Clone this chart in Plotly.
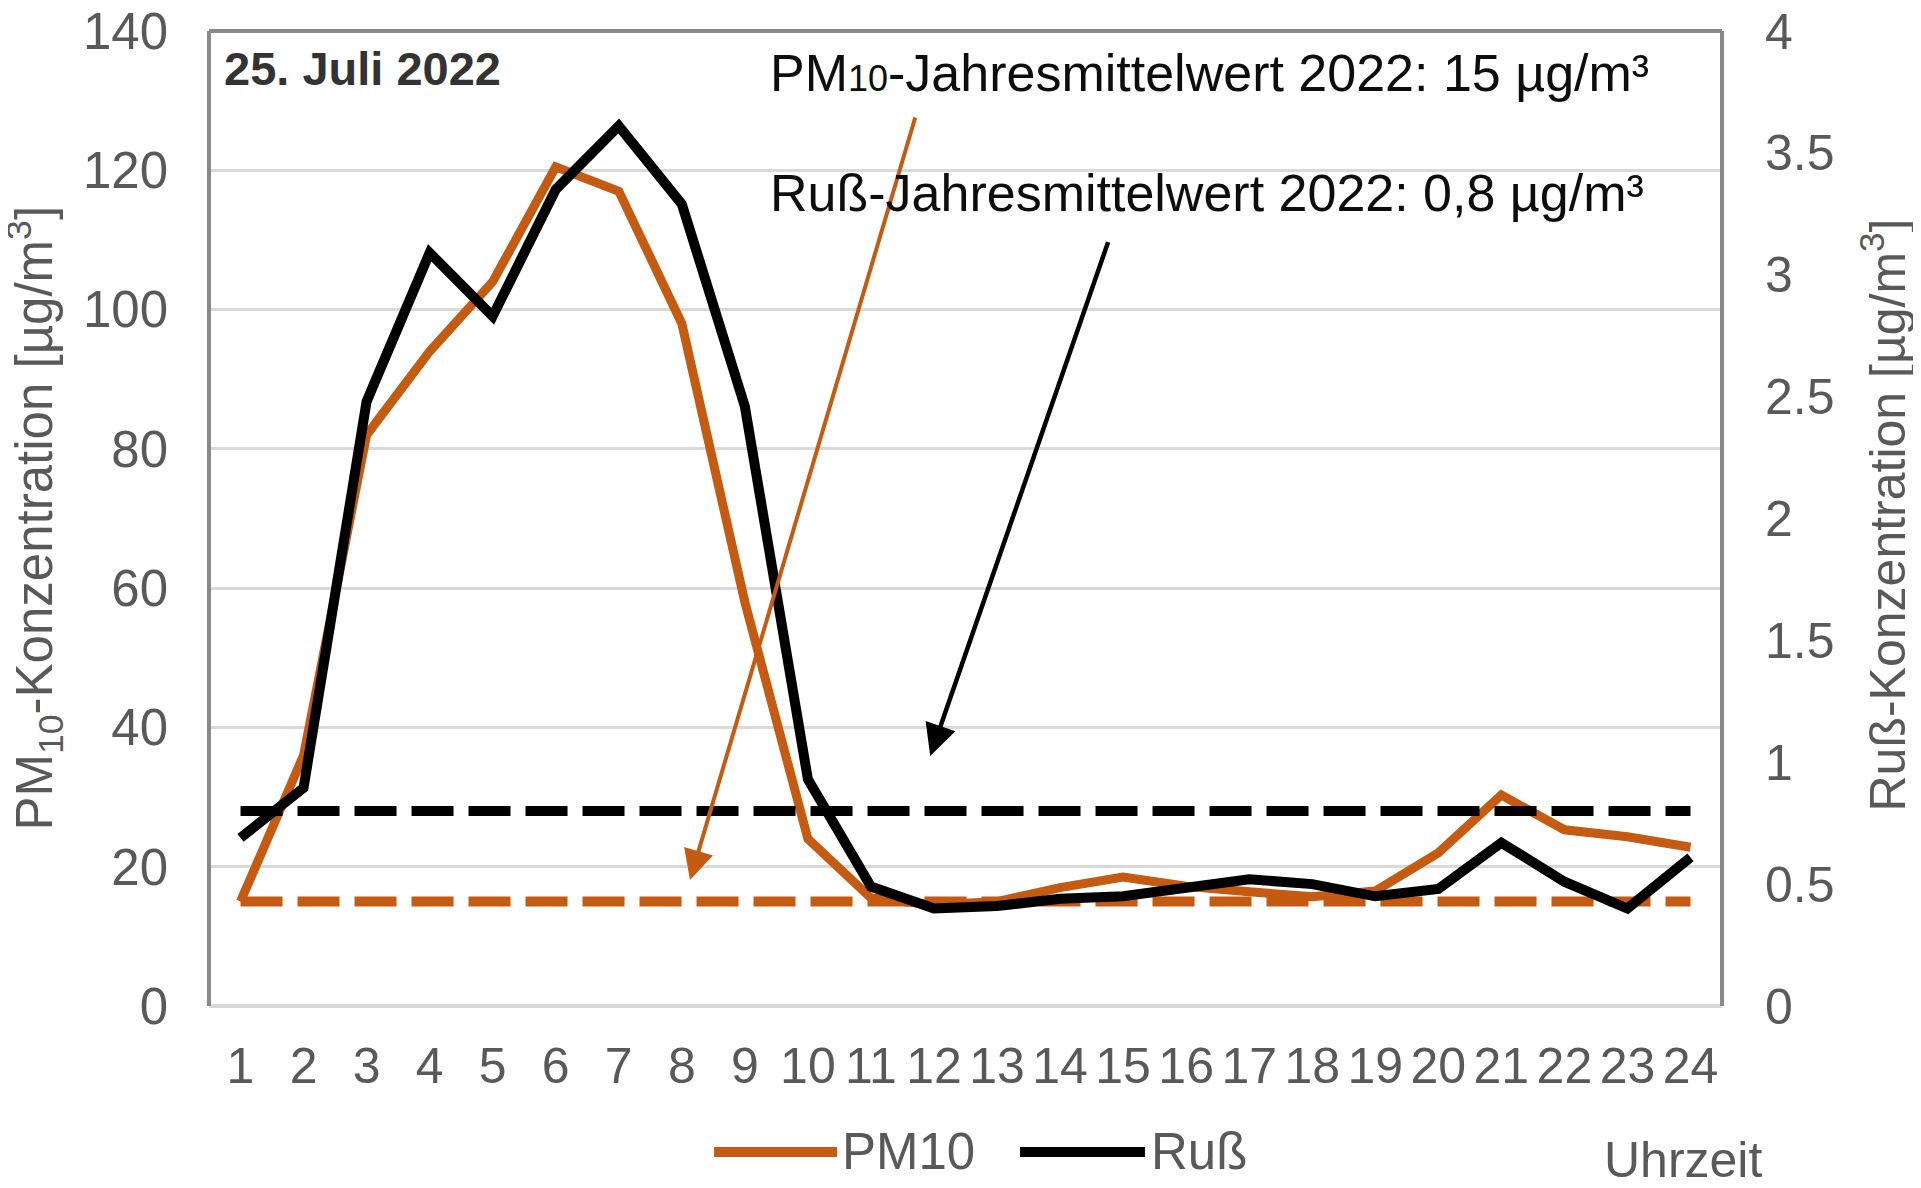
import plotly.graph_objects as go

# ---------------- data ----------------
hours = list(range(1, 25))
hour_labels = [str(h) for h in hours]

pm10 = [15, 36, 82, 94, 104, 120.5, 117, 98, 58, 24, 15.5, 14.5,
        15, 17, 18.5, 17.2, 16.4, 15.7, 16.5, 22, 30.3, 25.3, 24.3, 22.8]
russ = [0.69, 0.895, 2.48, 3.09, 2.83, 3.35, 3.61, 3.29, 2.46, 0.93, 0.49, 0.40,
        0.41, 0.44, 0.45, 0.48, 0.52, 0.50, 0.45, 0.48, 0.67, 0.51, 0.40, 0.61]

PM10_MEAN = 15      # µg/m³, Jahresmittelwert 2022
RUSS_MEAN = 0.8     # µg/m³, Jahresmittelwert 2022

left_ticks = [0, 20, 40, 60, 80, 100, 120, 140]
right_ticks = [0, 0.5, 1, 1.5, 2, 2.5, 3, 3.5, 4]

# arrows (tip, tail) in data coordinates of x / left axis
pm10_arrow = dict(x=8.13, y=18.1, ax=11.71, ay=127.8)
russ_arrow = dict(x=11.94, y=35.9, ax=14.77, ay=109.9)

# ---------------- style ----------------
ORANGE = "#C55A11"
BLACK = "#000000"
GRAY = "#595959"
GRID = "#D9D9D9"
FRAME = "#898989"
FONT = "Liberation Sans, Arial, sans-serif"

fig = go.Figure()
fig.add_trace(go.Scatter(x=hours, y=pm10, mode="lines", name="PM10",
                         line=dict(color=ORANGE, width=9)))
fig.add_trace(go.Scatter(x=hours, y=[PM10_MEAN] * len(hours), mode="lines",
                         line=dict(color=ORANGE, width=10, dash="42px,15px"),
                         showlegend=False))
fig.add_trace(go.Scatter(x=hours, y=russ, mode="lines", name="Ruß", yaxis="y2",
                         line=dict(color=BLACK, width=10)))
fig.add_trace(go.Scatter(x=hours, y=[RUSS_MEAN] * len(hours), mode="lines", yaxis="y2",
                         line=dict(color=BLACK, width=10, dash="42px,15px"),
                         showlegend=False))

# page body adds an 8px margin, so the figure is 16px smaller than the window
fig.update_layout(
    width=1905, height=1172,
    margin=dict(l=201, r=191, t=23, b=174, autoexpand=False),
    paper_bgcolor="white", plot_bgcolor="white",
    showlegend=False,
    font=dict(family=FONT, color=GRAY, size=50),
    xaxis=dict(range=[0.5, 24.5], tickvals=hours, ticktext=hour_labels,
               showgrid=False, zeroline=False, showline=False, ticks="",
               tickfont=dict(size=50, color=GRAY), ticklabelstandoff=26,
               ticklabeloverflow="allow", automargin=False),
    yaxis=dict(range=[0, 140], tickvals=left_ticks,
               showgrid=True, gridcolor=GRID, gridwidth=3,
               zeroline=True, zerolinecolor=GRID, zerolinewidth=4,
               showline=False, ticks="",
               tickfont=dict(size=51, color=GRAY), ticklabelstandoff=40,
               ticklabeloverflow="allow", automargin=False),
    yaxis2=dict(range=[0, 4], tickvals=right_ticks, overlaying="y", side="right",
                showgrid=False, zeroline=False, showline=False, ticks="",
                tickfont=dict(size=50, color=GRAY), ticklabelstandoff=42,
                ticklabeloverflow="allow", automargin=False),
)

# frame (left, top, right)
for x0, y0, x1, y1 in [(0, 0, 0, 1), (0, 1, 1, 1), (1, 0, 1, 1)]:
    fig.add_shape(type="line", xref="paper", yref="paper", x0=x0, y0=y0, x1=x1, y1=y1,
                  line=dict(color=FRAME, width=4), layer="above")

# arrows
fig.add_annotation(text="", showarrow=True, xref="x", yref="y", axref="x", ayref="y",
                   arrowcolor=ORANGE, arrowwidth=4, arrowhead=2, arrowsize=1.5,
                   **pm10_arrow)
fig.add_annotation(text="", showarrow=True, xref="x", yref="y", axref="x", ayref="y",
                   arrowcolor=BLACK, arrowwidth=4.5, arrowhead=2, arrowsize=1.4,
                   **russ_arrow)

# texts
fig.add_annotation(text="<b>25. Juli 2022</b>", xref="paper", yref="paper",
                   x=0.0085, y=0.962, xanchor="left", yanchor="middle", showarrow=False,
                   font=dict(family=FONT, size=47, color="#333333"))
fig.add_annotation(text="PM<span style='font-size:36px'>10</span>-Jahresmittelwert 2022: 15 µg/m³",
                   xref="paper", yref="paper", x=0.3695, y=0.957,
                   xanchor="left", yanchor="middle", showarrow=False,
                   font=dict(family=FONT, size=52, color="#0D0D0D"))
fig.add_annotation(text="Ruß-Jahresmittelwert 2022: 0,8 µg/m³",
                   xref="paper", yref="paper", x=0.3695, y=0.834,
                   xanchor="left", yanchor="middle", showarrow=False,
                   font=dict(family=FONT, size=52, color="#0D0D0D"))

# axis titles
fig.add_annotation(text="PM<sub>10</sub>-Konzentration [µg/m<sup>3</sup>]",
                   xref="paper", yref="paper", x=-0.1156, y=0.5, textangle=-90,
                   xanchor="center", yanchor="middle", showarrow=False,
                   font=dict(family=FONT, size=51, color=GRAY))
fig.add_annotation(text="Ruß-Konzentration [µg/m<sup>3</sup>]",
                   xref="paper", yref="paper", x=1.107, y=0.504, textangle=-90,
                   xanchor="center", yanchor="middle", showarrow=False,
                   font=dict(family=FONT, size=50, color=GRAY))
fig.add_annotation(text="Uhrzeit", xref="paper", yref="paper", x=0.9207, y=-0.158,
                   xanchor="left", yanchor="middle", showarrow=False,
                   font=dict(family=FONT, size=50, color=GRAY))

# legend
legend_items = [("PM10", ORANGE, 0.3338, 0.4151, 0.417),
                ("Ruß", BLACK, 0.536, 0.6186, 0.6213)]
for name, color, lx0, lx1, tx in legend_items:
    fig.add_shape(type="line", xref="paper", yref="paper", x0=lx0, x1=lx1,
                  y0=-0.1497, y1=-0.1497, line=dict(color=color, width=10))
    fig.add_annotation(text=name, xref="paper", yref="paper", x=tx, y=-0.1497,
                       xanchor="left", yanchor="middle", showarrow=False,
                       font=dict(family=FONT, size=51, color=GRAY))

fig.write_html("out.html")
